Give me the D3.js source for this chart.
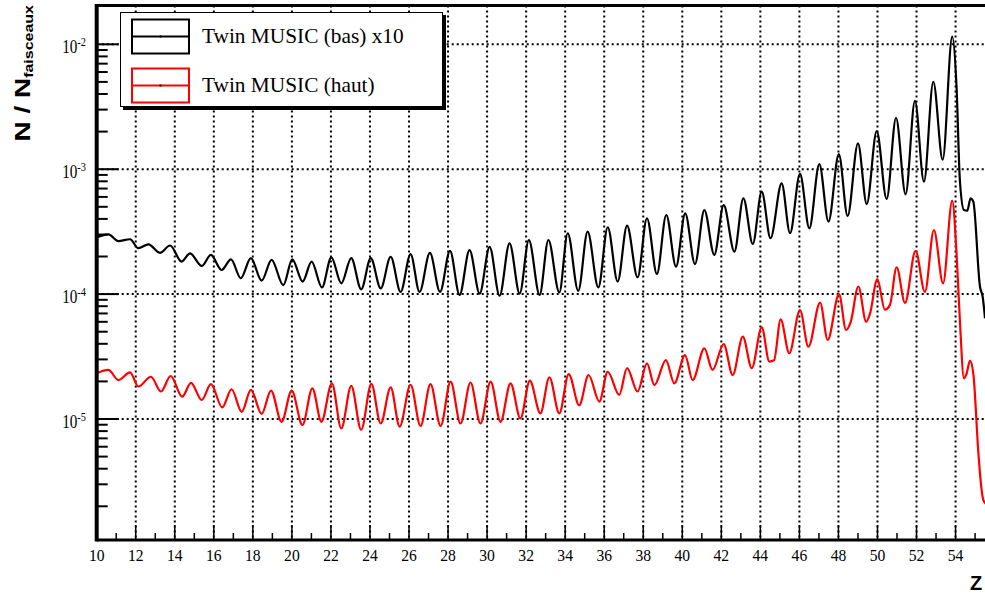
<!DOCTYPE html>
<html><head><meta charset="utf-8">
<script src="https://cdn.jsdelivr.net/npm/d3@7"></script>
<style>body{margin:0;background:#fff;} svg{display:block;}</style>
</head><body><svg id="c" width="985" height="596"></svg>
<script>
// ---- data ----
const zBas = [10.0,10.60,11.11,11.71,12.13,12.65,13.24,13.76,14.35,14.78,15.38,15.85,16.40,16.88,17.38,17.90,18.45,18.96,19.56,20.02,20.55,21.01,21.54,22.02,22.53,23.04,23.55,24.04,24.55,25.06,25.57,26.08,26.54,27.07,27.59,28.10,28.59,29.10,29.62,30.13,30.64,31.15,31.67,32.14,32.69,33.14,33.70,34.13,34.67,35.15,35.70,36.18,36.69,37.17,37.71,38.19,38.70,39.18,39.68,40.15,40.65,41.13,41.64,42.12,42.67,43.13,43.61,44.07,44.52,45.09,45.52,46.03,46.51,47.02,47.49,48.02,48.47,49.00,49.45,49.96,50.47,50.95,51.44,51.92,52.38,52.86,53.34,53.83,54.05,54.22,54.43,54.60,54.77,54.91,55.25,55.39,55.51];
const nBas = [2.85e-4,3.01e-4,2.66e-4,2.75e-4,2.33e-4,2.50e-4,2.14e-4,2.45e-4,1.82e-4,2.12e-4,1.68e-4,2.06e-4,1.56e-4,1.90e-4,1.34e-4,1.94e-4,1.28e-4,1.88e-4,1.18e-4,1.90e-4,1.26e-4,1.82e-4,1.13e-4,1.97e-4,1.22e-4,1.94e-4,1.09e-4,1.94e-4,1.11e-4,1.99e-4,1.04e-4,2.09e-4,1.04e-4,2.14e-4,1.04e-4,2.22e-4,9.85e-5,2.25e-4,1.01e-4,2.39e-4,9.7e-5,2.55e-4,1.01e-4,2.71e-4,9.85e-5,2.71e-4,1.03e-4,3.07e-4,1.06e-4,3.16e-4,1.13e-4,3.43e-4,1.26e-4,3.53e-4,1.36e-4,4.05e-4,1.45e-4,4.30e-4,1.66e-4,4.43e-4,1.74e-4,4.71e-4,2.06e-4,5.16e-4,2.19e-4,5.85e-4,2.52e-4,6.61e-4,2.80e-4,7.71e-4,3.07e-4,9.16e-4,3.36e-4,1.10e-3,3.80e-4,1.32e-3,4.22e-4,1.61e-3,5.26e-4,2.02e-3,5.77e-4,2.58e-3,6.29e-4,3.52e-3,7.94e-4,5.01e-3,1.19e-3,1.15e-2,4.57e-3,8.2e-4,4.71e-4,4.65e-4,5.85e-4,5.5e-4,1.15e-4,9.5e-5,6.4e-5];
const zHaut = [10.0,10.60,11.11,11.71,12.13,12.78,13.29,13.79,14.38,14.83,15.38,15.85,16.43,16.91,17.43,17.90,18.45,18.93,19.47,19.99,20.54,21.05,21.51,22.05,22.53,23.04,23.55,24.07,24.55,25.06,25.52,26.08,26.59,27.10,27.62,28.13,28.64,29.15,29.66,30.18,30.69,31.20,31.71,32.19,32.73,33.19,33.70,34.18,34.72,35.20,35.75,36.18,36.77,37.17,37.71,38.19,38.57,39.16,39.59,40.14,40.53,41.13,41.55,42.12,42.58,43.10,43.56,44.07,44.46,44.70,45.04,45.48,46.03,46.46,47.06,47.45,48.03,48.39,48.63,49.02,49.42,49.62,49.99,50.38,50.64,50.98,51.41,51.95,52.43,52.89,53.36,53.83,54.05,54.22,54.43,54.56,54.74,54.91,55.17,55.25,55.42,55.55];
const nHaut = [2.32e-5,2.47e-5,2.05e-5,2.36e-5,1.82e-5,2.18e-5,1.66e-5,2.21e-5,1.51e-5,1.95e-5,1.42e-5,1.90e-5,1.24e-5,1.73e-5,1.14e-5,1.71e-5,1.10e-5,1.69e-5,9.5e-6,1.69e-5,8.95e-6,1.76e-5,9.5e-6,1.93e-5,8.4e-6,1.84e-5,8.2e-6,1.91e-5,9.2e-6,1.79e-5,8.7e-6,1.88e-5,8.8e-6,1.90e-5,8.8e-6,1.99e-5,9.2e-6,1.96e-5,9.2e-6,1.99e-5,9.5e-6,1.93e-5,1.01e-5,2.03e-5,1.11e-5,2.16e-5,1.11e-5,2.29e-5,1.29e-5,2.25e-5,1.38e-5,2.39e-5,1.56e-5,2.55e-5,1.66e-5,2.79e-5,1.87e-5,2.96e-5,1.93e-5,3.25e-5,2.05e-5,3.68e-5,2.47e-5,3.98e-5,2.25e-5,4.56e-5,2.55e-5,5.42e-5,2.88e-5,2.95e-5,6.28e-5,3.36e-5,7.46e-5,3.79e-5,8.53e-5,4.3e-5,1.0e-4,5.16e-5,6.0e-5,1.15e-4,6.0e-5,7.0e-5,1.32e-4,7.5e-5,8.2e-5,1.64e-4,8.5e-5,2.22e-4,1.04e-4,3.26e-4,1.22e-4,5.6e-4,2.12e-4,6.2e-5,2.12e-5,2.3e-5,2.93e-5,2.3e-5,5.3e-6,3.67e-6,2.25e-6,2.1e-6];
const xTickLabels = [10,12,14,16,18,20,22,24,26,28,30,32,34,36,38,40,42,44,46,48,50,52,54];
const yTickExponents = [-5,-4,-3,-2];
const legendLabels = ["Twin MUSIC (bas) x10","Twin MUSIC (haut)"];
const seriesColors = ["#000000","#ff0000"];
const xTitle = "Z";
const yTitleMain = "N / N", yTitleSub = "faisceaux";

// ---- layout ----
const L = 96.7, R = 994.6, T = 5.5, B = 540;
const svg = d3.select("#c");
const x = d3.scaleLinear().domain([10, 56]).range([L, R]);
const y = d3.scaleLog().domain([1e-5, 1e-2]).range([419, 44.3]);
const serif = "'Liberation Serif','Times New Roman',serif";
const sans = "'Liberation Sans',Arial,Helvetica,sans-serif";

svg.append("defs").append("clipPath").attr("id","fr").append("rect")
  .attr("x",L).attr("y",T).attr("width",R-L).attr("height",B-T);

// grid
const grid = svg.append("g").attr("stroke","#000").attr("stroke-width",2).attr("stroke-dasharray","2,3");
xTickLabels.filter(v=>v>10).forEach(v=>{
  grid.append("line").attr("x1",x(v)).attr("x2",x(v)).attr("y1",T).attr("y2",B);
});
yTickExponents.forEach(e=>{
  grid.append("line").attr("x1",L).attr("x2",R).attr("y1",y(Math.pow(10,e))).attr("y2",y(Math.pow(10,e)));
});

// curves
const line = d3.line().curve(d3.curveMonotoneX).x(d=>x(d[0])).y(d=>y(d[1]));
const curves = svg.append("g").attr("clip-path","url(#fr)");
[[zBas,nBas],[zHaut,nHaut]].forEach(([zs,ns],i)=>{
  curves.append("path").datum(zs.map((z,k)=>[z,ns[k]]))
    .attr("d",line).attr("fill","none").attr("stroke",seriesColors[i])
    .attr("stroke-width",2.2).attr("stroke-linejoin","round");
});

// y ticks
const ax = svg.append("g").attr("stroke","#000");
for (let e=-6; e<=-2; e++){
  for (let k=1;k<=9;k++){
    const v = k*Math.pow(10,e), py = y(v);
    if (py < T+2 || py > B-1) continue;
    ax.append("line").attr("x1",L).attr("x2",L+(k===1?22:11)).attr("y1",py).attr("y2",py).attr("stroke-width",2);
  }
}
// x ticks
for (let v=10; v<=56; v++){
  const px = x(v); if (px > 985) continue;
  ax.append("line").attr("x1",px).attr("x2",px).attr("y1",B).attr("y2",B-(v%2===0?15:7)).attr("stroke-width",1.5);
}
// frame
ax.append("line").attr("x1",L).attr("x2",L).attr("y1",T-1.5).attr("y2",B+1.5).attr("stroke-width",4);
ax.append("line").attr("x1",L).attr("x2",R).attr("y1",B).attr("y2",B).attr("stroke-width",3);
ax.append("line").attr("x1",L).attr("x2",R).attr("y1",T).attr("y2",T).attr("stroke-width",3);
ax.append("line").attr("x1",R).attr("x2",R).attr("y1",T).attr("y2",B).attr("stroke-width",3);

// x labels
xTickLabels.forEach(v=>{
  svg.append("text").attr("transform",`translate(${x(v)},561) scale(0.92,1)`)
    .attr("text-anchor","middle").attr("font-family",serif).attr("font-size",17).text(v);
});
// y labels
yTickExponents.forEach(e=>{
  const py = y(Math.pow(10,e));
  const t = svg.append("text").attr("transform",`translate(86,${py+9}) scale(0.8,1)`)
    .attr("text-anchor","end").attr("font-family",serif).attr("font-size",19);
  t.append("tspan").text("10");
  t.append("tspan").attr("font-size",13).attr("dy",-7.5).text(String(e));
});

// axis titles
const yt = svg.append("text").attr("transform","translate(30,5) rotate(-90) scale(1,0.8)")
  .attr("text-anchor","end").attr("font-family",sans).attr("font-weight","bold").attr("font-size",28);
yt.append("tspan").text(yTitleMain);
yt.append("tspan").attr("font-size",16).attr("dy",4).text(yTitleSub);
svg.append("text").attr("x",970).attr("y",590).attr("font-family",sans).attr("font-weight","bold")
  .attr("font-size",20).text(xTitle);

// legend
const lg = svg.append("g");
lg.append("rect").attr("x",123).attr("y",15).attr("width",323).attr("height",95).attr("fill","#000");
lg.append("rect").attr("x",120.5).attr("y",12.5).attr("width",322).attr("height",94).attr("fill","#fff").attr("stroke","#000").attr("stroke-width",1);
legendLabels.forEach((lab,i)=>{
  const cy = 36.5 + i*49;
  lg.append("rect").attr("x",132).attr("y",cy-17).attr("width",57).attr("height",34)
    .attr("fill","none").attr("stroke",seriesColors[i]).attr("stroke-width",2);
  lg.append("line").attr("x1",132).attr("x2",189).attr("y1",cy).attr("y2",cy).attr("stroke",seriesColors[i]).attr("stroke-width",2);
  lg.append("rect").attr("x",159.5).attr("y",cy-1).attr("width",2).attr("height",2).attr("fill","#000");
  lg.append("text").attr("transform",`translate(202,${cy+6}) scale(0.97,1)`)
    .attr("font-family",serif).attr("font-size",22).text(lab);
});
</script></body></html>
